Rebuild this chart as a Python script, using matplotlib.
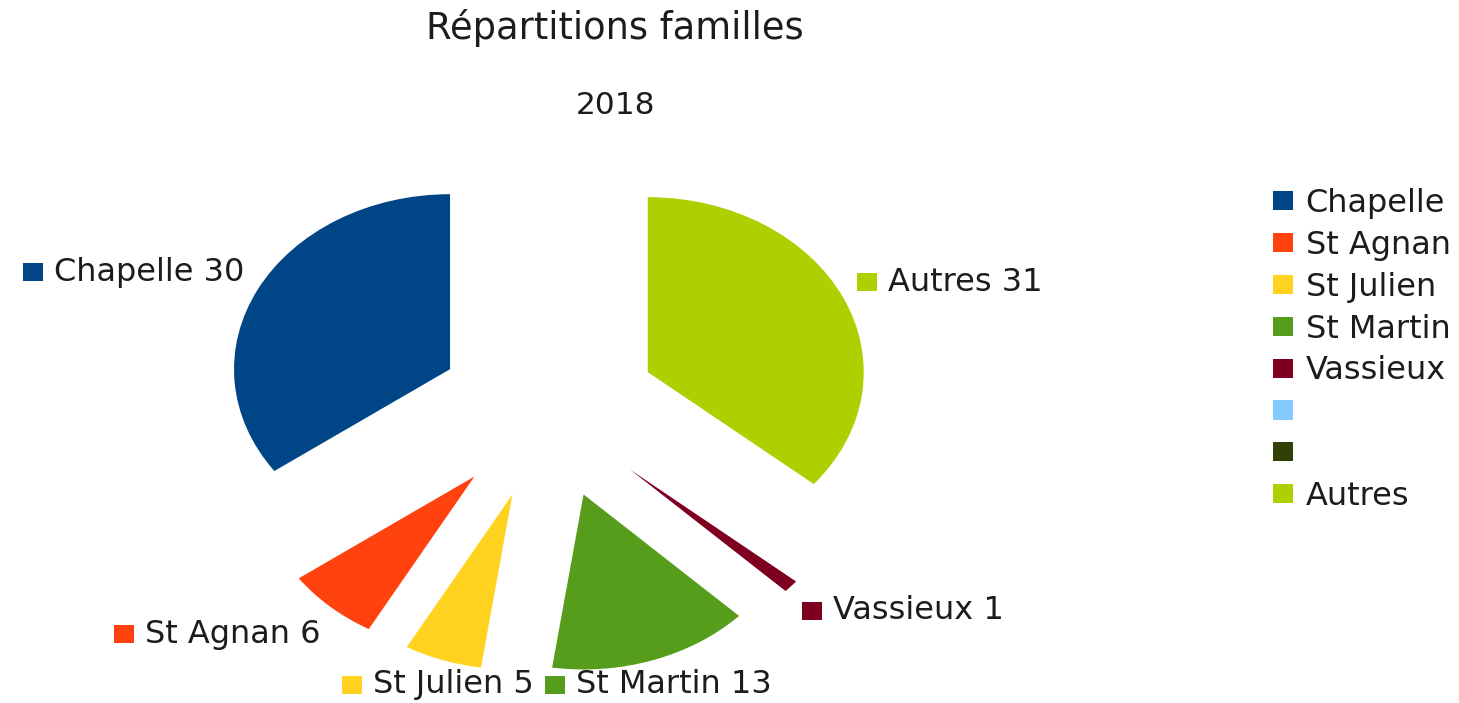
import numpy as np
import matplotlib
matplotlib.use("Agg")
import matplotlib.pyplot as plt
from matplotlib.offsetbox import DrawingArea, TextArea, HPacker, AnnotationBbox
from matplotlib.patches import Rectangle

# ---- data ----
categories = ["Chapelle", "St Agnan", "St Julien", "St Martin", "Vassieux", "", "", "Autres"]
values = [30, 6, 5, 13, 1, 0, 0, 31]
colors = ["#004586", "#ff420e", "#ffd320", "#579d1c", "#7e0021", "#83caff", "#314004", "#aecf00"]
title = "Répartitions familles"
subtitle = "2018"

plt.rcParams['font.family'] = ['DejaVu Sans']
W, H = 1459, 703
fig = plt.figure(figsize=(W / 100, H / 100), dpi=100)
ax = fig.add_axes([0, 0, 1, 1])

explode = [0.51] * len(values)
wedges, _ = ax.pie(values, colors=colors, startangle=90, counterclock=True,
                   explode=explode, radius=1.0, wedgeprops=dict(linewidth=0))

# horizontal stretch of the pie: center at pixel (548, 410 from top)
cx, cy = 548, 410
sx, sy = 216.0, 175.0
ax.set_aspect('auto')
ax.set_xlim(-cx / sx, (W - cx) / sx)
ax.set_ylim(-(H - cy) / sy, cy / sy)
ax.axis('off')

# ---- data labels ----
Rx, Ry, Ry_bottom = 1.58, 1.72, 1.66
txtcol = "#1c1c1c"
for w, name, val, col in zip(wedges, categories, values, colors):
    if val == 0:
        continue
    th = np.deg2rad((w.theta1 + w.theta2) / 2)
    c, s = np.cos(th), np.sin(th)
    if abs(c) < 0.5:
        ha = 0.5
        xt, yt = Rx * c, Ry_bottom * s
    else:
        ha = 1.0 if c < 0 else 0.0
        xt, yt = Rx * c, Ry * s
    da = DrawingArea(14.5, 13, 0, 0)
    da.add_artist(Rectangle((0, 0), 14.5, 13, fc=col, ec='none'))
    ta = TextArea(f"{name} {val}", textprops=dict(fontsize=23, color=txtcol))
    box = HPacker(children=[da, ta], align='center', pad=0, sep=8)
    ab = AnnotationBbox(box, (xt, yt), xycoords='data', box_alignment=(ha, 0.5),
                        frameon=False, pad=0, annotation_clip=False)
    ax.add_artist(ab)

# ---- titles ----
fig.text(615 / W, (H - 39) / H, title, ha='center', va='baseline', fontsize=26.5, color=txtcol)
fig.text(615 / W, (H - 114) / H, subtitle, ha='center', va='baseline', fontsize=22.5, color=txtcol)

# ---- legend ----
leg_labels = [c if c else " " for c in categories]
fig.legend(wedges, leg_labels, loc='upper left', bbox_to_anchor=(1273 / W, (H - 188) / H),
           frameon=False, fontsize=23, handlelength=0.62, handleheight=0.55,
           handletextpad=0.4, labelspacing=0.34, borderpad=0, borderaxespad=0,
           labelcolor=txtcol)

fig.savefig("out.png", dpi=100)
